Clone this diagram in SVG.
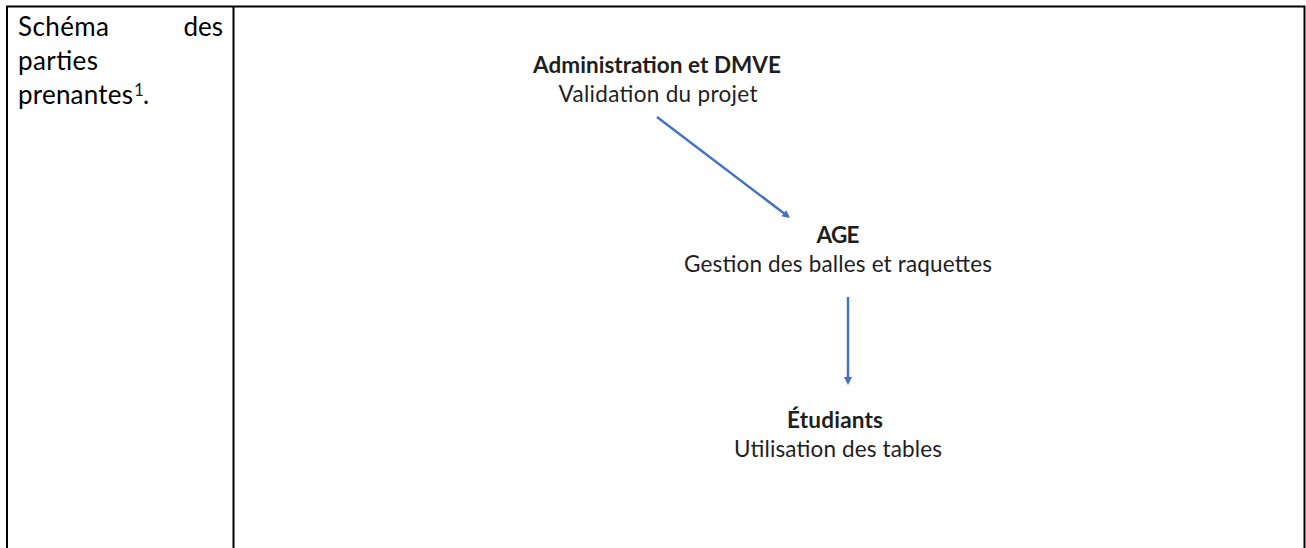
<svg xmlns="http://www.w3.org/2000/svg" width="1306" height="548" viewBox="0 0 1306 548">
<defs>
<style>
.t{font-family:Lato,"Open Sans","Liberation Sans",sans-serif;fill:#1e1e1e;}
.b{font-weight:bold;}
.d{font-size:22.5px;text-anchor:middle;}
.l{font-size:26px;fill:#000;}
.border{stroke:#000;stroke-width:2;fill:none;}
.conn{stroke:#4472C4;stroke-width:2.5;fill:none;}
</style>
<marker id="ah" viewBox="0 0 10 10" refX="7" refY="5" markerWidth="8" markerHeight="8" orient="auto" markerUnits="userSpaceOnUse">
<path d="M0,0 L10,5 L0,10 z" fill="#4472C4"/>
</marker>
</defs>
<rect width="1306" height="548" fill="#fff"/>
<g id="table">
<path class="border" d="M7,548 V6.5 H1304.5 V548 M233.5,6.5 V548"/>
</g>
<g id="label">
<text class="t l" x="18" y="36" textLength="91" lengthAdjust="spacing">Schéma</text>
<text class="t l" x="223" y="36" text-anchor="end">des</text>
<text class="t l" x="18" y="70" textLength="80" lengthAdjust="spacing">parties</text>
<text class="t l" x="18" y="104" textLength="115" lengthAdjust="spacing">prenantes</text>
<text class="t" x="134" y="96" font-size="17" fill="#000">1</text>
<text class="t l" x="143" y="104">.</text>
</g>
<g id="connectors">
<line class="conn" x1="657" y1="117" x2="788.1" y2="216.5" marker-end="url(#ah)"/>
<line class="conn" x1="848" y1="297" x2="848" y2="382.6" marker-end="url(#ah)"/>
</g>
<g id="node-admin">
<text class="t d b" x="657" y="73" textLength="248" lengthAdjust="spacing">Administration et DMVE</text>
<text class="t d" x="658" y="102" textLength="199" lengthAdjust="spacing">Validation du projet</text>
</g>
<g id="node-age">
<text class="t d b" x="838" y="243" textLength="43" lengthAdjust="spacing">AGE</text>
<text class="t d" x="838" y="272" textLength="308" lengthAdjust="spacing">Gestion des balles et raquettes</text>
</g>
<g id="node-etudiants">
<text class="t d b" x="835" y="428" textLength="96" lengthAdjust="spacing">Étudiants</text>
<text class="t d" x="838" y="457" textLength="208" lengthAdjust="spacing">Utilisation des tables</text>
</g>
</svg>
